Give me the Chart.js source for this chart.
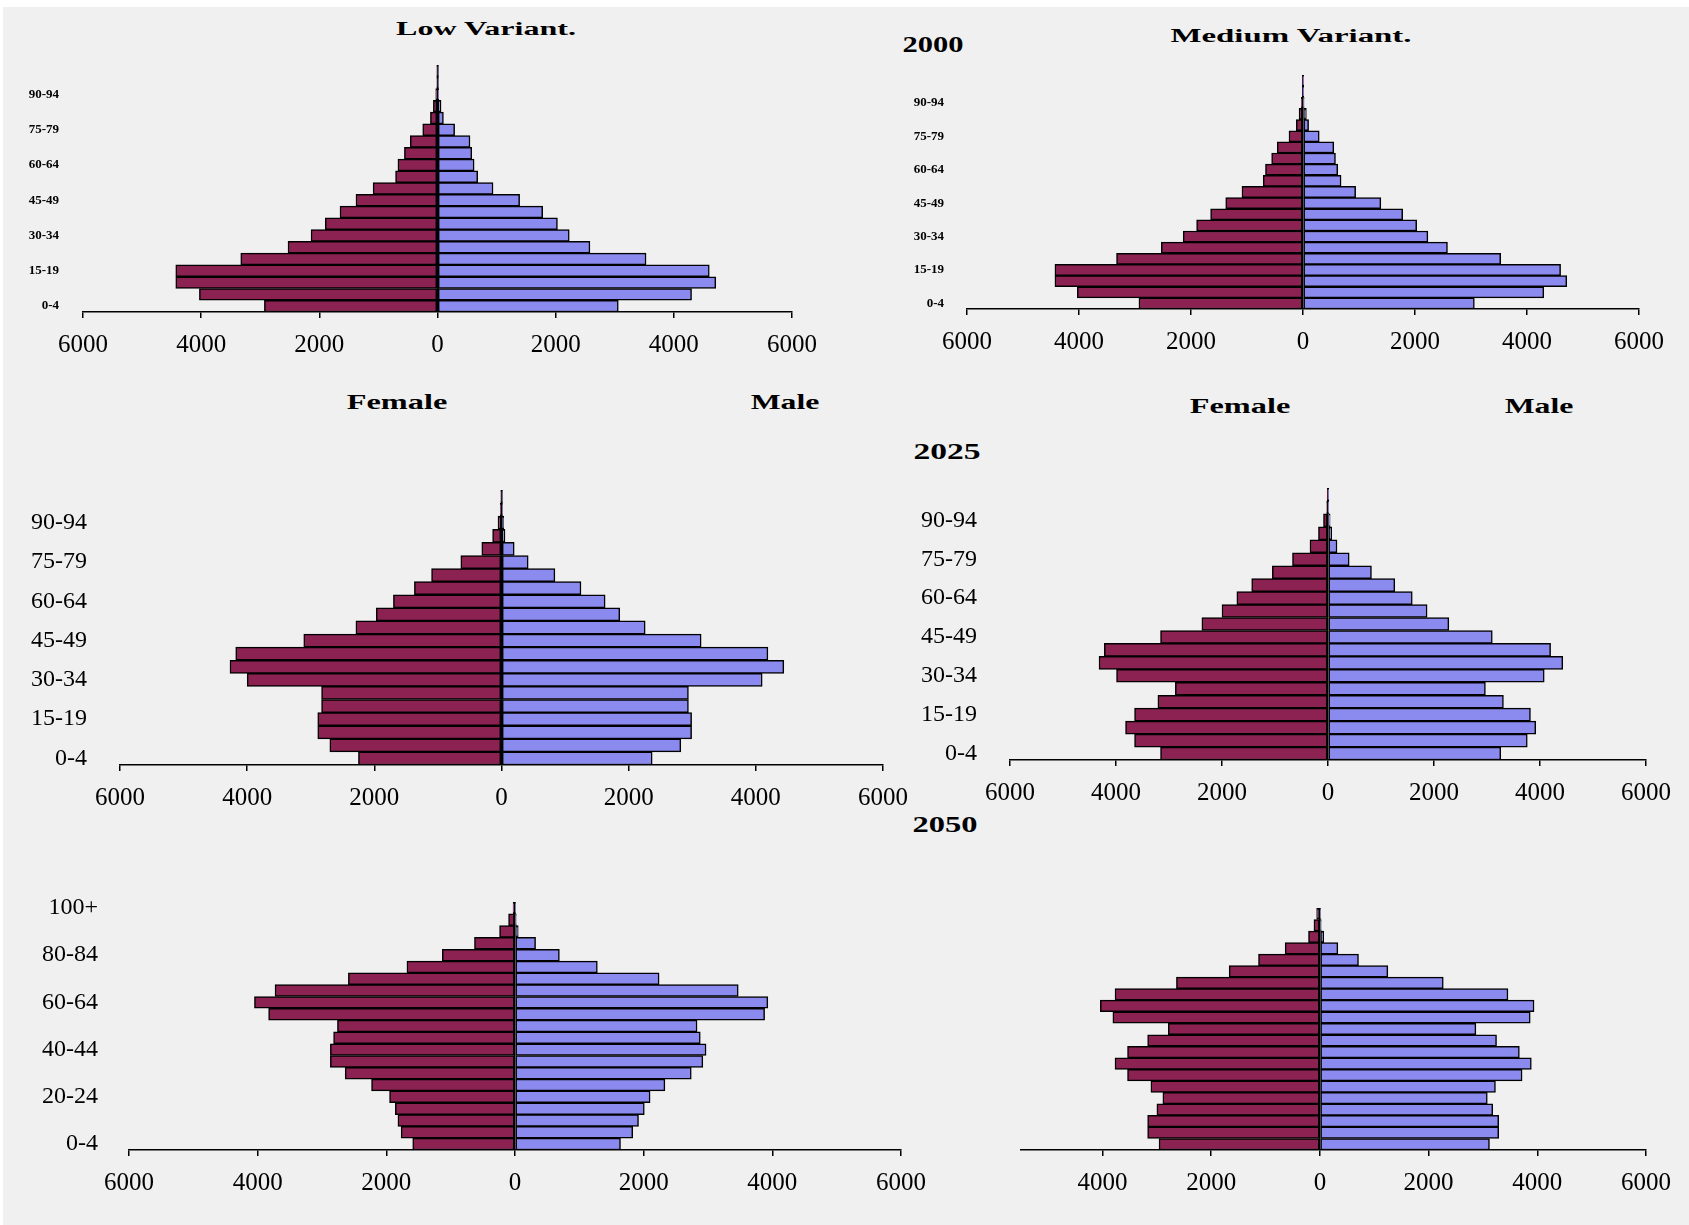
<!DOCTYPE html>
<html>
<head>
<meta charset="utf-8">
<script src="https://cdn.jsdelivr.net/npm/chart.js@4.4.1/dist/chart.umd.min.js"></script>
<style>
  html, body { margin: 0; padding: 0; background: #fff; }
  #page { position: absolute; left: 3px; top: 7px; width: 1686px; height: 1218px; background: #f0f0f0; }
  .box { position: absolute; }
  .lbl {
    position: absolute; white-space: nowrap; line-height: 1;
    font-family: "Liberation Serif", "DejaVu Serif", serif; font-weight: bold; color: #000;
  }
</style>
</head>
<body>
<div id="page"></div>

<div class="lbl" data-x="486" data-y="29" data-w="180" style="font-size:18px">Low Variant.</div>
<div class="lbl" data-x="1291" data-y="36" data-w="241" style="font-size:18px">Medium Variant.</div>
<div class="lbl" data-x="933" data-y="44" data-w="61" style="font-size:23px">2000</div>
<div class="lbl" data-x="397" data-y="402" data-w="100" style="font-size:21px">Female</div>
<div class="lbl" data-x="785" data-y="402" data-w="68" style="font-size:21px">Male</div>
<div class="lbl" data-x="1240" data-y="406" data-w="100" style="font-size:21px">Female</div>
<div class="lbl" data-x="1539" data-y="406" data-w="68" style="font-size:21px">Male</div>
<div class="lbl" data-x="947" data-y="451" data-w="67" style="font-size:23px">2025</div>
<div class="lbl" data-x="945" data-y="824" data-w="65" style="font-size:23px">2050</div>

<!-- each box starts 15px above its plot area (layout padding top) -->
<div class="box" style="left:0px;top:50px;width:832px;height:312px"><canvas id="c1"></canvas></div>
<div class="box" style="left:900px;top:60px;width:779px;height:299px"><canvas id="c2"></canvas></div>
<div class="box" style="left:0px;top:475px;width:923px;height:340px"><canvas id="c3"></canvas></div>
<div class="box" style="left:920px;top:473px;width:766px;height:337px"><canvas id="c4"></canvas></div>
<div class="box" style="left:0px;top:887px;width:941px;height:313px"><canvas id="c5"></canvas></div>
<div class="box" style="left:980px;top:893px;width:706px;height:307px"><canvas id="c6"></canvas></div>

<script>
// ─── DATA (thousands) ─────────────────────────────────────────────────────

const ageGroups = ['0-4', '5-9', '10-14', '15-19', '20-24', '25-29', '30-34', '35-39',
  '40-44', '45-49', '50-54', '55-59', '60-64', '65-69', '70-74', '75-79', '80-84',
  '85-89', '90-94', '95-99', '100+'];

// 2000 (same base year for both variants)
const female2000 = [2930, 4030, 4430, 4430, 3330, 2530, 2140, 1900, 1650, 1380, 1090,
  710, 670, 560, 460, 250, 120, 70, 30, 10, 5];
const male2000 = [3060, 4300, 4710, 4600, 3530, 2580, 2230, 2030, 1780, 1390, 940,
  680, 620, 580, 550, 290, 100, 60, 20, 5, 2];

// 2025
const femaleLow2025 = [2250, 2700, 2890, 2890, 2830, 2830, 4000, 4270, 4180, 3110, 2290,
  1970, 1700, 1370, 1100, 640, 310, 140, 55, 20, 5];
const maleLow2025 = [2370, 2820, 2990, 2990, 2940, 2940, 4100, 4440, 4190, 3140, 2260,
  1860, 1630, 1250, 840, 420, 200, 55, 35, 10, 3];
const femaleMed2025 = [3160, 3650, 3820, 3650, 3210, 2880, 3990, 4320, 4220, 3160, 2380,
  2000, 1720, 1440, 1050, 670, 340, 180, 85, 25, 5];
const maleMed2025 = [3260, 3760, 3920, 3820, 3310, 2970, 4080, 4430, 4200, 3100, 2280,
  1870, 1590, 1260, 820, 400, 170, 70, 40, 10, 3];

// 2050
const femaleLow2050 = [1590, 1770, 1820, 1860, 1950, 2230, 2640, 2870, 2870, 2820, 2760,
  3830, 4050, 3730, 2590, 1680, 1130, 630, 240, 100, 30];
const maleLow2050 = [1640, 1830, 1920, 2010, 2100, 2330, 2740, 2920, 2970, 2880, 2830,
  3880, 3930, 3470, 2240, 1280, 690, 320, 50, 20, 10];
const femaleMed2050 = [2960, 3170, 3170, 3000, 2890, 3110, 3540, 3770, 3540, 3170, 2790,
  3810, 4040, 3770, 2640, 1670, 1130, 640, 210, 110, 60];
const maleMed2050 = [3120, 3290, 3290, 3180, 3080, 3230, 3720, 3890, 3670, 3250, 2870,
  3870, 3940, 3460, 2270, 1250, 710, 330, 70, 25, 15];

const xTicks = [-6000, -4000, -2000, 0, 2000, 4000, 6000];
const xTicksCut = [-4000, -2000, 0, 2000, 4000, 6000];

// ─── HEADINGS ─────────────────────────────────────────────────────────────

document.querySelectorAll('.lbl').forEach(el => {
  const w = el.offsetWidth;
  const k = parseFloat(el.dataset.w) / w;
  el.style.left = el.dataset.x + 'px';
  el.style.top = el.dataset.y + 'px';
  el.style.transform = `translate(-50%, -50%) scaleX(${k.toFixed(3)})`;
});

// ─── PYRAMIDS ─────────────────────────────────────────────────────────────

const FEMALE = '#8b2252';
const MALE = '#8b8bef';
const SERIF = '"Liberation Serif", "DejaVu Serif", serif';

function pyramid(id, female, male, o) {
  const ticks = o.ticks || xTicks;
  return new Chart(document.getElementById(id), {
    type: 'bar',
    data: {
      labels: ageGroups,
      datasets: [
        { label: 'Female', data: female.map(v => -v), backgroundColor: FEMALE },
        { label: 'Male', data: male, backgroundColor: MALE }
      ]
    },
    options: {
      indexAxis: 'y',
      responsive: true,
      maintainAspectRatio: false,
      animation: false,
      events: [],
      layout: { padding: { left: 0, top: 15, right: 40, bottom: 0 } },
      datasets: {
        bar: {
          barPercentage: 1, categoryPercentage: 1,
          borderColor: '#000', borderWidth: 1.5, borderSkipped: false
        }
      },
      plugins: { legend: { display: false }, tooltip: { enabled: false } },
      scales: {
        x: {
          type: 'linear', stacked: true,
          min: o.min !== undefined ? o.min : -6000, max: 6000,
          afterBuildTicks: s => { s.ticks = ticks.map(v => ({ value: v })); },
          afterFit: s => { s.height = 50; s.paddingLeft = 0; s.paddingRight = 0; },
          border: { display: true, color: '#000', width: 1.5 },
          grid: {
            color: c => (c.tick && c.tick.value === 0) ? '#000' : 'rgba(0,0,0,0)',
            lineWidth: 1.5, tickColor: '#000', tickLength: 6, tickWidth: 1.5
          },
          ticks: {
            autoSkip: false, maxRotation: 0, padding: 12, color: '#000',
            font: { family: SERIF, size: 25 },
            callback: v => Math.abs(v)
          }
        },
        y: {
          type: 'category', stacked: true, reverse: true,
          afterFit: s => { s.width = o.yw; s.paddingTop = 0; s.paddingBottom = 0; },
          border: { display: false },
          grid: { display: false },
          ticks: {
            autoSkip: false, padding: o.pad, color: '#000',
            font: { family: SERIF, size: o.fs, weight: o.bold ? 'bold' : 'normal' },
            callback: function (v) {
              if (!o.every) return '';
              return v % o.every === 0 ? this.getLabelForValue(v) : '';
            }
          }
        }
      }
    }
  });
}

pyramid('c1', female2000, male2000, { yw: 83, pad: 16, fs: 13, bold: true, every: 3 });
pyramid('c2', female2000, male2000, { yw: 67, pad: 15, fs: 13, bold: true, every: 3 });
pyramid('c3', femaleLow2025, maleLow2025, { yw: 120, pad: 25, fs: 24, every: 3 });
pyramid('c4', femaleMed2025, maleMed2025, { yw: 90, pad: 25, fs: 24, every: 3 });
pyramid('c5', femaleLow2050, maleLow2050, { yw: 129, pad: 23, fs: 24, every: 4 });
pyramid('c6', femaleMed2050, maleMed2050, { yw: 41, pad: 20, fs: 24, every: 0, min: -5500, ticks: xTicksCut });
</script>
</body>
</html>
